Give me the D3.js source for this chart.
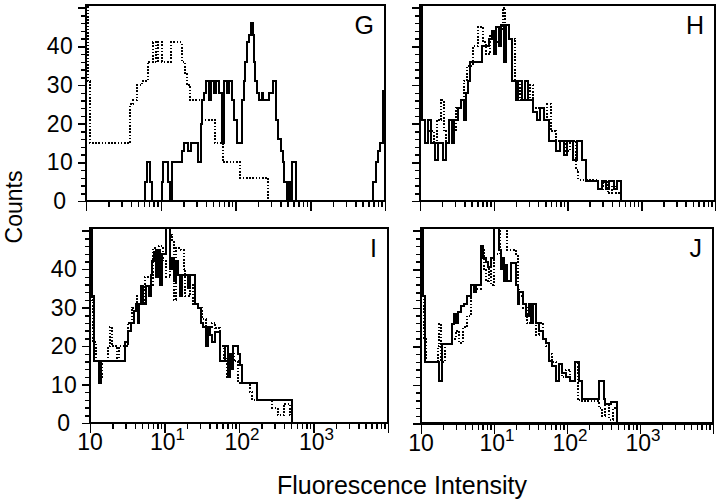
<!DOCTYPE html>
<html><head><meta charset="utf-8">
<script src="https://cdn.jsdelivr.net/npm/d3@7"></script>
<style>
body{margin:0;background:#fff}
svg{display:block}
text{font-family:"Liberation Sans",Arial,Helvetica,sans-serif;fill:#000}
</style>
</head><body>
<svg id="chart" width="720" height="501"></svg>
<script>
// ---------- data (intensity, count) step histograms ----------
const panelNames = ["G", "H", "I", "J"];
const yTickLabels = [0, 10, 20, 30, 40];
const xTickValues = [1, 10, 100, 1000];
const xTickBase = ["10", "10", "10", "10"];
const xTickExp = ["", "1", "2", "3"];
const xAxisTitle = "Fluorescence Intensity";
const yAxisTitle = "Counts";

const gSolid = [[1,0],[6.2,5],[6.6,10],[7.2,5],[7.6,0],[10.3,5],[10.8,10],[12.4,5],[13.3,0],[14.0,10],[19.1,13],[20.7,15],[23.4,13],[25.2,15],[31.9,10],[34.3,20],[35.8,26],[38,28],[40.4,31],[44.4,26],[47.2,31],[51.6,28],[55,31],[60.2,28],[65.1,15],[69.3,31],[77.2,28],[82.2,31],[90,26],[96,21],[104,15],[121,26],[128,31],[134,36],[144,41],[152,43],[160,46],[171,43],[177,36],[183,31],[196,28],[209,26],[225,28],[236,26],[284,28],[322,31],[350,21],[375,16],[404,13],[430,10],[451,5],[486,0],[505,5],[540,0],[565,10],[640,0],[7015,5],[7620,10],[8180,13],[8630,15],[9370,28.5]];
const gDotted = [[1,55],[1.06,31],[1.13,15],[3.88,25],[4.3,26],[4.8,30],[5.6,31],[6.7,36],[7.8,41],[8.6,36],[9.1,41],[10.4,36],[13.6,41],[19,36],[21.2,33],[22.6,30],[24.8,26],[36.1,21],[53.3,15],[68.2,10],[115,6],[273,0]];

const hSolid = [[1,55],[1.06,21],[1.17,15],[1.28,21],[1.41,15],[1.6,10.5],[1.75,15],[2.05,10.5],[2.25,15],[2.47,21],[2.72,15],[2.9,21],[3.27,24],[3.6,26],[3.95,21],[4.21,28],[4.48,31],[4.76,36],[6.9,40],[8.6,42],[9.4,44],[10.1,38],[10.7,45],[11.8,40],[12.5,45.5],[13.8,36],[14.6,45.5],[16.1,42],[17.9,31],[20,26],[21.3,31],[24.2,26],[26.5,31],[29,26],[34.1,23],[38.6,21],[42.4,24],[48,21],[56,15.5],[70,13],[79,15.5],[89,12],[98,15.5],[119,10.5],[134,15.5],[157,10.5],[178,5.2],[259,3],[294,5.2],[333,3],[366,5.2],[427,3],[469,5.2],[532,0]];
const hDotted = [[1,55],[1.04,32],[1.08,21],[1.28,18],[1.55,15],[1.7,21],[1.95,26],[2.1,18],[2.25,15],[2.47,21],[2.8,18],[3.08,24],[3.6,26],[3.95,31],[4.34,35],[5.23,40],[6.11,45],[7.14,41],[7.84,38],[8.89,43],[10.4,41],[11.8,44],[13.3,50],[14.4,44],[16.1,42],[19.7,31],[22.7,26],[31,30],[34,24],[42.4,21],[52.7,25],[59.8,18],[70,15.5],[92,13],[108,15.5],[132,8],[140,5.5],[259,3],[300,5],[350,2],[400,4],[460,2],[532,0]];

const iSolid = [[1,55],[1.08,33],[1.12,16],[1.33,10.5],[1.42,16],[2.92,21],[3.24,24],[3.55,26],[3.9,29],[4.1,31],[4.4,26],[4.6,31],[4.84,35.5],[5.2,31],[5.65,35.5],[6.2,33],[6.59,38.5],[6.9,42],[7.3,44.5],[7.8,38],[8.2,45],[8.7,36],[9.2,44],[10.6,52],[11.9,40],[12.5,43],[13.5,37],[14.3,42],[15.2,38.5],[16,33],[17,38.5],[20.7,35],[22,38.5],[25.7,31],[28.2,30],[30.5,26],[32.9,25],[36,20],[38,25],[40.8,23],[44,21],[47.6,23.7],[55.6,16],[64.9,20],[71.2,12],[75,18],[80,14],[83,20],[97,18],[104,15],[110,10.5],[175,6],[514,0]];
const iDotted = [[1,55],[1.06,32],[1.1,21],[1.2,16],[1.35,12],[1.45,16],[1.75,20],[1.85,25],[1.95,20],[2.3,16],[2.45,20],[2.9,20],[3.2,26],[3.7,30],[4.3,33],[5.0,31],[5.5,38],[6.5,36],[7.0,45.5],[7.6,40],[8.4,46],[9.5,42],[10.5,38],[12,49],[12.8,47],[13.5,32],[14.3,45.5],[16.5,45],[18,40],[19,33],[22,36],[24,31],[28,30],[32,27],[36,25],[43,26],[48,24.7],[55,20],[63,17],[70,12],[75,18],[85,16],[97,10.5],[141,8],[150,6],[280,4],[330,2],[400,5],[480,2],[520,0]];

const jSolid = [[1,55],[1.07,33],[1.14,16],[1.76,11],[1.94,20.6],[2.66,25.8],[2.85,28.4],[3.02,26],[3.2,29],[3.53,30.6],[3.88,31],[4.27,33],[4.84,35.8],[5.3,34],[5.6,36],[6.63,46],[7.0,43],[7.77,42],[8.3,40.5],[9.1,43],[10,51],[11.7,45],[12.3,40],[12.9,43],[13.6,37],[14.2,41],[15.1,37],[17.1,41.5],[20,36],[21,31],[22,34],[25,31],[27.4,28],[30.2,31],[32,26],[34.2,31],[37.6,26],[41.3,24],[46.9,22],[51.6,21],[56.7,16.3],[62.3,15],[70.7,11],[77.7,15.4],[85.4,13],[96.9,12],[110,11],[129,16],[146,11],[160,6.3],[274,11],[321,6.3],[332,5],[400,5.5],[484,0]];
const jDotted = [[1,55],[1.06,33],[1.1,22],[1.17,16],[1.7,20],[1.78,25.8],[1.9,16],[2.1,20.6],[2.66,22],[3.0,24],[3.3,21],[3.8,25],[4.27,28],[4.84,35],[6.63,45],[7.29,40],[7.77,37],[8.54,40],[9.1,36],[10,44],[12.2,51],[15.2,45],[20,44],[21,35],[22,33],[25,30],[28,26],[34.2,27],[37.6,23],[41.3,26],[46.9,22],[51.6,20],[56.7,18],[62.3,16],[70.7,14],[85.4,12],[96.9,14],[110,11],[129,16],[140,6],[160,5.8],[274,4],[300,2],[330,5],[380,1],[430,4],[484,0]];

// ---------- layout ----------
const layout = {
  G: {left: 86, right: 385, top: 5, bottom: 201, yLabels: true, xLabels: false, solid: gSolid, dotted: gDotted},
  H: {left: 420, right: 715, top: 5, bottom: 201, yLabels: false, xLabels: false, solid: hSolid, dotted: hDotted},
  I: {left: 90, right: 388, top: 228, bottom: 423, yLabels: true, xLabels: true, solid: iSolid, dotted: iDotted},
  J: {left: 421, right: 713, top: 228, bottom: 423.5, yLabels: false, xLabels: true, solid: jSolid, dotted: jDotted}
};
const yMax = 50.7;

const svg = d3.select("#chart");
const defs = svg.append("defs");

const minorX = [];
[1, 10, 100, 1000].forEach(d => { for (let m = 2; m <= 9; m++) minorX.push(m * d); });
const majorX = [1, 10, 100, 1000, 10000];
const minorY = d3.range(0, 51, 2);
const majorY = [0, 10, 20, 30, 40, 50];

panelNames.forEach(name => {
  const L = layout[name];
  const x = d3.scaleLog().domain([1, 10000]).range([L.left, L.right]);
  const y = d3.scaleLinear().domain([0, yMax]).range([L.bottom, L.top]);
  const g = svg.append("g");

  defs.append("clipPath").attr("id", "clip" + name)
    .append("rect").attr("x", L.left - 1).attr("y", L.top - 1)
    .attr("width", L.right - L.left + 2).attr("height", L.bottom - L.top + 2);

  const line = d3.line()
    .x(d => x(d[0]))
    .y(d => y(Math.min(d[1], yMax)))
    .curve(d3.curveStepAfter);
  const ext = s => s.concat([[x.domain()[1], s[s.length - 1][1]]]);

  const plot = g.append("g").attr("clip-path", `url(#clip${name})`);
  plot.append("path").datum(ext(L.dotted)).attr("d", line)
    .attr("fill", "none").attr("stroke", "#000").attr("stroke-width", 2)
    .attr("stroke-dasharray", "1.6,1.6").attr("shape-rendering", "crispEdges");
  plot.append("path").datum(ext(L.solid)).attr("d", line)
    .attr("fill", "none").attr("stroke", "#000").attr("stroke-width", 2)
    .attr("shape-rendering", "crispEdges");

  // frame
  g.append("rect").attr("x", L.left).attr("y", L.top)
    .attr("width", L.right - L.left).attr("height", L.bottom - L.top)
    .attr("fill", "none").attr("stroke", "#000").attr("stroke-width", 2)
    .attr("shape-rendering", "crispEdges");
  g.append("line").attr("x1", L.left).attr("x2", L.right)
    .attr("y1", L.bottom).attr("y2", L.bottom)
    .attr("stroke", "#000").attr("stroke-width", 2.5)
    .attr("shape-rendering", "crispEdges");

  // axes
  const styleAxis = sel => {
    sel.select(".domain").remove();
    sel.selectAll("line").attr("stroke", "#000").attr("stroke-width", 1.5)
      .attr("shape-rendering", "crispEdges");
    sel.selectAll("text").remove();
  };
  g.append("g").attr("transform", `translate(${L.left},0)`)
    .call(d3.axisLeft(y).tickValues(minorY).tickSize(5).tickFormat(""))
    .call(styleAxis);
  g.append("g").attr("transform", `translate(${L.left},0)`)
    .call(d3.axisLeft(y).tickValues(majorY).tickSize(8).tickFormat(""))
    .call(styleAxis);
  g.append("g").attr("transform", `translate(0,${L.bottom})`)
    .call(d3.axisBottom(x).tickValues(minorX).tickSize(6).tickFormat(""))
    .call(styleAxis);
  g.append("g").attr("transform", `translate(0,${L.bottom})`)
    .call(d3.axisBottom(x).tickValues(majorX).tickSize(10).tickFormat(""))
    .call(styleAxis);

  if (L.yLabels) {
    yTickLabels.forEach(v => {
      g.append("text").attr("x", L.left - 26).attr("y", y(v) + 8)
        .attr("text-anchor", "middle").attr("font-size", 23)
        .attr("letter-spacing", 0.5).text(v);
    });
  }
  if (L.xLabels) {
    xTickValues.forEach((v, k) => {
      const t = g.append("text").attr("x", x(v) + (xTickExp[k] ? 3 : 0)).attr("y", L.bottom + 27)
        .attr("text-anchor", "middle").attr("font-size", 23);
      t.append("tspan").text(xTickBase[k]);
      if (xTickExp[k]) t.append("tspan").attr("dy", -10).attr("font-size", 17).text(xTickExp[k]);
    });
  }

  g.append("text").attr("x", L.right - 11).attr("y", L.top + 29)
    .attr("text-anchor", "end").attr("font-size", 25).text(name);
});

svg.append("text").attr("transform", "translate(22,207) rotate(-90)")
  .attr("text-anchor", "middle").attr("font-size", 23).text(yAxisTitle);
svg.append("text").attr("x", 402).attr("y", 494)
  .attr("text-anchor", "middle").attr("font-size", 25).text(xAxisTitle);
</script>
</body></html>
